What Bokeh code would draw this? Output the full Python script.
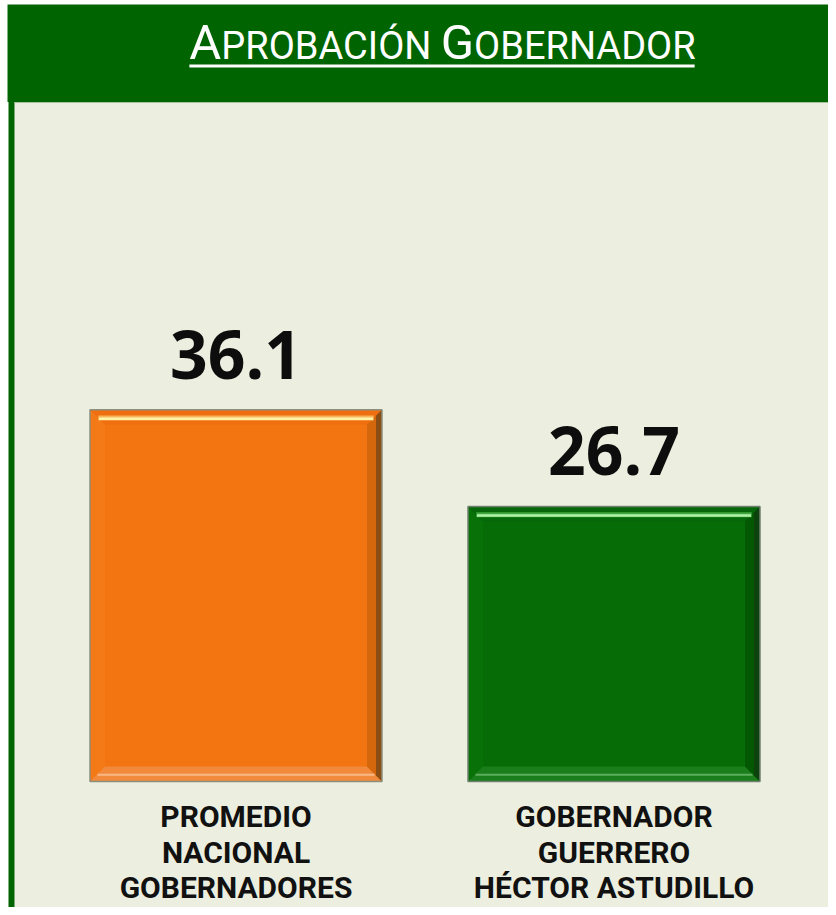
from bokeh.plotting import figure
from bokeh.models import Range1d
from bokeh.core.properties import value
from bokeh.embed import file_html
from bokeh.resources import INLINE

# ---- data ----
categories = ["PROMEDIO\nNACIONAL\nGOBERNADORES", "GOBERNADOR\nGUERRERO\nHÉCTOR ASTUDILLO"]
values = [36.1, 26.7]
title_text = "Aprobación Gobernador"

# ---- style ----
W, H = 828, 907
HEADER_GREEN = "#006400"
BG = "#ECEFDF"
PX_PER_UNIT = 10.30
BASE_PX = 781
BAR_SPACING_PX = 378.0
FIRST_CENTER_PX = 235.5
bar_styles = [
    dict(main="#F27511", top="#EF6E10", hl="#FFF3A8", hl2="#F9B45A", left="#F37A16", right="#D4660C",
         rdark="#8A4E14", bottom="#F28A3C", bhl="#F8B888", border="#8E8E7E"),
    dict(main="#066D06", top="#05660A", hl="#B0F2A8", hl2="#3FA83F", left="#087208", right="#045804",
         rdark="#0C420C", bottom="#1A7E1A", bhl="#5DAD5D", border="#6F7F6F"),
]

xr = Range1d(-FIRST_CENTER_PX / BAR_SPACING_PX, (W - FIRST_CENTER_PX) / BAR_SPACING_PX)
yr = Range1d(-(H - BASE_PX) / PX_PER_UNIT, BASE_PX / PX_PER_UNIT)

p = figure(width=W, height=H, x_range=xr, y_range=yr, output_backend="svg",
           toolbar_location=None, x_axis_location=None, y_axis_location=None,
           min_border=0, min_border_left=0, min_border_right=0,
           min_border_top=0, min_border_bottom=0)
p.grid.visible = False
p.outline_line_color = None
p.background_fill_color = "white"
p.border_fill_color = "white"
p.extra_x_ranges = {"px": Range1d(0, W)}
p.extra_y_ranges = {"px": Range1d(H, 0)}

# frame decorations (pixel space)
p.quad(left=[7], right=[W], top=[4], bottom=[101.5], fill_color=HEADER_GREEN,
       line_color=None, x_range_name="px", y_range_name="px")
p.quad(left=[14], right=[W], top=[102.5], bottom=[H], fill_color=BG,
       line_color=None, x_range_name="px", y_range_name="px")
p.quad(left=[8], right=[14], top=[100], bottom=[H], fill_color=HEADER_GREEN,
       line_color=None, x_range_name="px", y_range_name="px")
p.segment(x0=[14], x1=[W], y0=[102], y1=[102], line_color="#A8C09C", line_width=1,
          x_range_name="px", y_range_name="px")

# title in small caps (Roboto regular advance widths, units per em 2048)
ROBOTO = {"A": 1336, "P": 1292, "R": 1259, "O": 1411, "B": 1275, "C": 1336, "I": 570,
          "Ó": 1411, "N": 1427, " ": 507, "G": 1395, "E": 1165, "D": 1343}
BIG, SMALL = 49, 38
words = title_text.split(" ")
pieces = []
for word_i, word in enumerate(words):
    pieces.append((word[0].upper(), BIG))
    rest = word[1:].upper() + (" " if word_i < len(words) - 1 else "")
    pieces.append((rest, SMALL))
widths = [sum(ROBOTO.get(ch, 1300) for ch in t) / 2048 * s for t, s in pieces]
total = sum(widths)
cx = 441.5
x0 = cx - total / 2
TITLE_BASE = 60
cur = x0
for (t, s), w in zip(pieces, widths):
    p.text(x=[cur], y=[TITLE_BASE - 0.37 * s], text=[t], text_color="white",
           text_font=value("Roboto"), text_font_size=f"{s}px", text_align="left",
           text_baseline="middle", x_range_name="px", y_range_name="px")
    cur += w
p.segment(x0=[x0], x1=[x0 + total], y0=[65.5], y1=[65.5], line_color="white", line_width=3,
          x_range_name="px", y_range_name="px")

# bars with bevel
bar_w = 292 / BAR_SPACING_PX
bx = 15 / BAR_SPACING_PX
by = 15 / PX_PER_UNIT
for i, v in enumerate(values):
    st = bar_styles[i]
    l, r = i - bar_w / 2, i + bar_w / 2
    t, b = v, 0.0
    p.vbar(x=[i], top=[v], bottom=[0], width=bar_w, fill_color=st["main"], line_color=None)
    p.patch([l, r, r - bx, l + bx], [t, t, t - by, t - by], fill_color=st["top"], line_color=None)
    p.patch([l, l + bx, l + bx, l], [t, t - by, b + by, b], fill_color=st["left"], line_color=None)
    p.patch([l, r, r - bx, l + bx], [b, b, b + by, b + by], fill_color=st["bottom"], line_color=None)
    p.patch([r, r, r - bx, r - bx], [t, b, b + by, t - by], fill_color=st["right"], line_color=None)
    p.patch([r, r, r - bx * 0.4, r - bx * 0.4], [t, b, b + by * 0.4, t - by * 0.4],
            fill_color=st["rdark"], line_color=None)
    # highlights
    p.segment(x0=[l + bx * 0.55], x1=[r - bx * 0.55], y0=[t - by * 0.55], y1=[t - by * 0.55],
              line_color=st["hl2"], line_width=5)
    p.segment(x0=[l + bx * 0.6], x1=[r - bx * 0.6], y0=[t - by * 0.6], y1=[t - by * 0.6],
              line_color=st["hl"], line_width=2.5)
    p.segment(x0=[l + bx * 0.5], x1=[r - bx * 0.5], y0=[b + by * 0.45], y1=[b + by * 0.45],
              line_color=st["bhl"], line_width=2)
    p.vbar(x=[i], top=[v], bottom=[0], width=bar_w, fill_color=None, line_color=st["border"],
           line_width=1.5)

# value labels
xs = list(range(len(values)))
p.text(x=xs, y=values, text=[f"{v:.1f}" for v in values], text_color="#0D0D0D",
       text_font=value("Open Sans"), text_font_style="bold", text_font_size="66px",
       text_align="center", text_baseline="middle", y_offset=-55)

# category labels
lines = [c.split("\n") for c in categories]
for j in range(3):
    p.text(x=xs, y=[0] * len(xs), text=[ln[j] for ln in lines], text_color="#111111",
           text_font=value("Roboto"), text_font_style="bold",
           text_font_size="30px", text_align="center", text_baseline="middle",
           y_offset=35 + 35.5 * j)

open("out.html", "w").write(file_html(p, INLINE))
